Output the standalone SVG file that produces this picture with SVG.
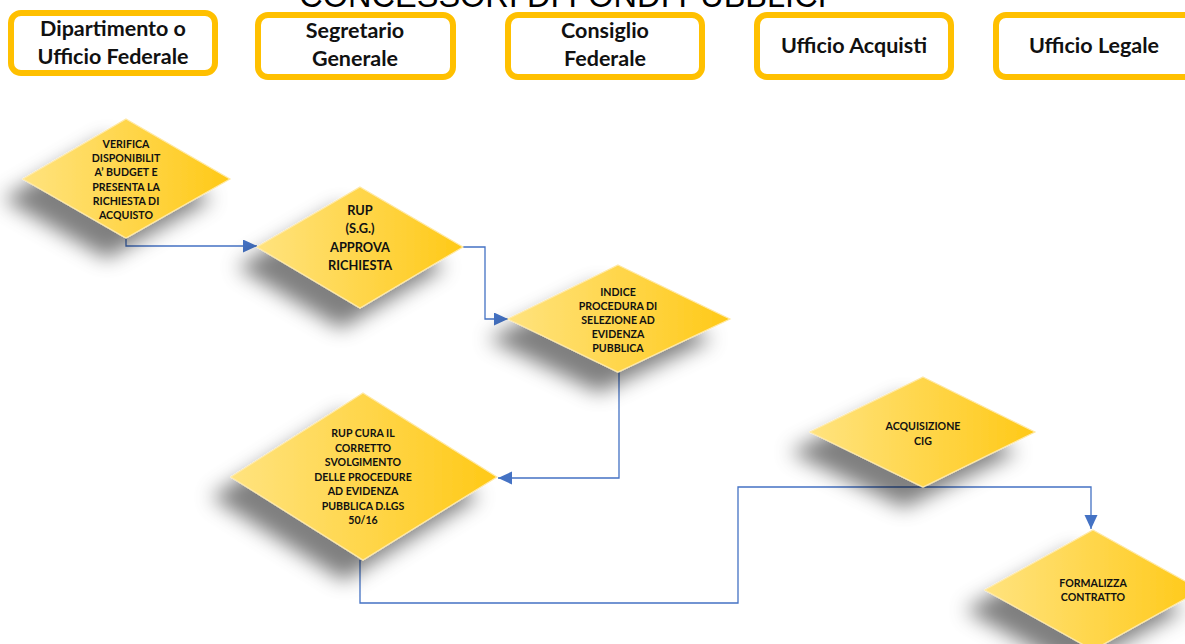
<svg xmlns="http://www.w3.org/2000/svg" width="1185" height="644" viewBox="0 0 1185 644">
<style>
.hdr{fill:#fff;stroke:#FFC000;stroke-width:6}
.ht{font-family:Lato,"Open Sans",sans-serif;font-weight:bold;font-size:21.5px;fill:#111;text-anchor:middle}
.dm{fill:url(#yg);stroke:#FFE9A6;stroke-width:1.2;filter:url(#sh)}
.dt{font-family:Lato,"Open Sans",sans-serif;font-weight:bold;font-size:10.6px;fill:#111;text-anchor:middle}
.dt2{font-family:Lato,"Open Sans",sans-serif;font-weight:bold;font-size:12.8px;fill:#111;text-anchor:middle}
.cn{fill:none;stroke:#4472C4;stroke-width:1.3;marker-end:url(#ar)}
</style>
<defs>
<linearGradient id="yg" x1="0" y1="0" x2="1" y2="0">
<stop offset="0" stop-color="#FFE37F"/>
<stop offset="1" stop-color="#FFC917"/>
</linearGradient>
<filter id="sh" x="-40%" y="-40%" width="180%" height="190%">
<feGaussianBlur in="SourceAlpha" stdDeviation="10"/>
<feOffset dx="-19" dy="20" result="b"/>
<feFlood flood-color="#000" flood-opacity="0.5"/>
<feComposite in2="b" operator="in"/>
<feMerge><feMergeNode/><feMergeNode in="SourceGraphic"/></feMerge>
</filter>
<marker id="ar" markerUnits="userSpaceOnUse" markerWidth="16" markerHeight="14" refX="14" refY="6.5" orient="auto">
<path d="M0,0 L14,6.5 L0,13 Z" fill="#4472C4"/>
</marker>
</defs>
<text x="563" y="7" font-family="'Liberation Sans',Arial,sans-serif" font-size="32.5" text-anchor="middle" fill="#000">CONCESSORI DI FONDI PUBBLICI</text>
<g id="hdr1"><rect class="hdr" x="11" y="13" width="204" height="60" rx="10"/><text class="ht" x="113" y="36">Dipartimento o</text><text class="ht" x="113" y="64">Ufficio Federale</text></g>
<g id="hdr2"><rect class="hdr" x="258" y="15" width="195" height="62" rx="10"/><text class="ht" x="355" y="38">Segretario</text><text class="ht" x="355" y="66">Generale</text></g>
<g id="hdr3"><rect class="hdr" x="508" y="15" width="194" height="62" rx="10"/><text class="ht" x="605" y="38">Consiglio</text><text class="ht" x="605" y="66">Federale</text></g>
<g id="hdr4"><rect class="hdr" x="757" y="15" width="194" height="62" rx="10"/><text class="ht" x="854" y="53">Ufficio Acquisti</text></g>
<g id="hdr5"><rect class="hdr" x="996" y="15" width="205" height="62" rx="10"/><text class="ht" x="1094" y="53">Ufficio Legale</text></g>
<g id="connectors">
<path class="cn" d="M126,238 V246 H257"/>
<path class="cn" d="M463,247 H485 V319 H508"/>
<path class="cn" d="M619,372 V478 H498"/>
<path class="cn" d="M360,560 V603 H738 V487 H1091 V529"/>
</g>
<g id="n1"><polygon class="dm" points="126,119 230,179 126,238 23,179"/>
<text class="dt" x="126" y="148">VERIFICA<tspan x="126" dy="14.2">DISPONIBILIT</tspan><tspan x="126" dy="14.2">A’ BUDGET E</tspan><tspan x="126" dy="14.2">PRESENTA LA</tspan><tspan x="126" dy="14.2">RICHIESTA DI</tspan><tspan x="126" dy="14.2">ACQUISTO</tspan></text></g>
<g id="n2"><polygon class="dm" points="360,187 463,247 360,308 257,247"/>
<text class="dt2" x="360" y="215">RUP<tspan x="360" dy="18.3">(S.G.)</tspan><tspan x="360" dy="18.3">APPROVA</tspan><tspan x="360" dy="18.3">RICHIESTA</tspan></text></g>
<g id="n3"><polygon class="dm" points="618,265 730,319 618,372 508,319"/>
<text class="dt" x="618" y="296">INDICE<tspan x="618" dy="14">PROCEDURA DI</tspan><tspan x="618" dy="14">SELEZIONE AD</tspan><tspan x="618" dy="14">EVIDENZA</tspan><tspan x="618" dy="14">PUBBLICA</tspan></text></g>
<g id="n4"><polygon class="dm" points="363,393 497,477 363,560 231,477"/>
<text class="dt" x="363" y="437">RUP CURA IL<tspan x="363" dy="14.5">CORRETTO</tspan><tspan x="363" dy="14.5">SVOLGIMENTO</tspan><tspan x="363" dy="14.5">DELLE PROCEDURE</tspan><tspan x="363" dy="14.5">AD EVIDENZA</tspan><tspan x="363" dy="14.5">PUBBLICA D.LGS</tspan><tspan x="363" dy="14.5">50/16</tspan></text></g>
<g id="n5"><polygon class="dm" points="923,377 1035,432 923,487 810,432"/>
<text class="dt" x="923" y="430">ACQUISIZIONE<tspan x="923" dy="15">CIG</tspan></text></g>
<g id="n6"><polygon class="dm" points="1093,530 1201,590 1093,650 985,590"/>
<text class="dt" x="1093" y="587">FORMALIZZA<tspan x="1093" dy="14">CONTRATTO</tspan></text></g>
</svg>
